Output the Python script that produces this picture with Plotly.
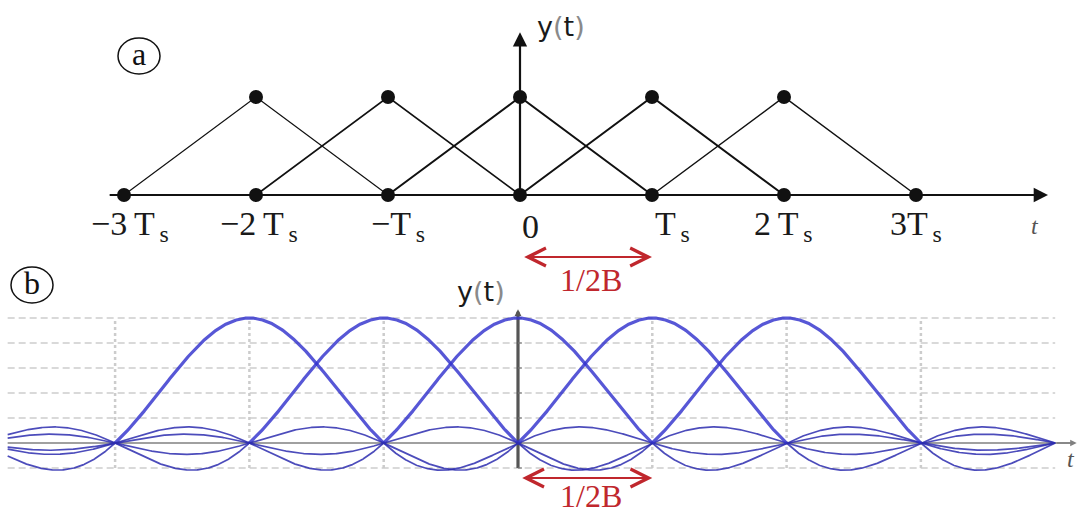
import numpy as np
import plotly.graph_objects as go

# ---------------- data ----------------
sample_ticks = [-3, -2, -1, 0, 1, 2, 3]                      # multiples of Ts
tick_labels = ["−3\u2009T<sub>\u2009s</sub>", "−2\u2009T<sub>\u2009s</sub>", "−T<sub>\u2009s</sub>", "0",
               "T<sub>\u2009s</sub>", "2\u2009T<sub>\u2009s</sub>", "3T<sub>\u2009s</sub>"]
pulse_centers = [-2, -1, 0, 1, 2]                              # triangular pulses (a)
pulse_peak = 1.0
pulse_halfwidth = 1.0
sinc_centers = [-2, -1, 0, 1, 2]                               # sinc pulses (b)
sinc_t_start, sinc_t_end = -3.8, 4.0
grid_levels = [-0.2, 0.0, 0.2, 0.4, 0.6, 0.8, 1.0]
grid_ticks_b = [-3, -2, -1, 1, 2, 3]
spacing_interval = [0, 1]                                      # one sample period
spacing_label = "1/2B"

# ---------------- canvas helpers ----------------
W, H = 1078, 516


def px(x):
    return x / W


def py(y):
    return 1 - y / H


BLACK = "#111111"
RED = "#c0272d"
SERIF = "Liberation Serif, DejaVu Serif, serif"
SANS = "DejaVu Sans, sans-serif"

fig = go.Figure()

# ---------------- panel (a): triangular pulses ----------------
pulse_widths = [1.2, 1.6, 2.0, 2.0, 1.5]
for c, lw in zip(pulse_centers, pulse_widths):
    fig.add_trace(go.Scatter(
        x=[c - pulse_halfwidth, c, c + pulse_halfwidth],
        y=[0, pulse_peak, 0],
        mode="lines", line=dict(color=BLACK, width=lw),
        xaxis="x", yaxis="y", hoverinfo="skip", showlegend=False))

# sample dots: pulse peaks and zero crossings
fig.add_trace(go.Scatter(
    x=pulse_centers + sample_ticks,
    y=[pulse_peak] * len(pulse_centers) + [0] * len(sample_ticks),
    mode="markers", marker=dict(color=BLACK, size=14),
    xaxis="x", yaxis="y", hoverinfo="skip", showlegend=False))

# ---------------- panel (b): sinc pulses ----------------
t = np.linspace(sinc_t_start, sinc_t_end, 1600)
for c in sinc_centers:
    y = np.sinc(t - c)
    main = np.where(np.abs(t - c) <= 1.0, y, np.nan)
    side = np.where(np.abs(t - c) >= 1.0, y, np.nan)
    fig.add_trace(go.Scatter(
        x=t, y=side, mode="lines",
        line=dict(color="rgba(45,45,175,0.85)", width=1.7),
        xaxis="x2", yaxis="y2", hoverinfo="skip", showlegend=False))
    fig.add_trace(go.Scatter(
        x=t, y=main, mode="lines",
        line=dict(color="rgba(50,50,205,0.82)", width=3.2),
        xaxis="x2", yaxis="y2", hoverinfo="skip", showlegend=False))

shapes = []
# dashed horizontal grid
for g in grid_levels:
    if g == 0:
        continue
    shapes.append(dict(type="line", xref="x2", yref="y2",
                       x0=sinc_t_start, x1=sinc_t_end, y0=g, y1=g,
                       line=dict(color="#cdcdcd", width=1.3, dash="7px,4px"),
                       layer="below"))
# dotted vertical grid
for k in grid_ticks_b:
    shapes.append(dict(type="line", xref="x2", yref="y2",
                       x0=k, x1=k, y0=min(grid_levels), y1=max(grid_levels),
                       line=dict(color="#cccccc", width=2.5, dash="dot"),
                       layer="below"))
# zero line and vertical axis of (b)
shapes.append(dict(type="line", xref="x2", yref="y2",
                   x0=sinc_t_start, x1=4.14, y0=0, y1=0,
                   line=dict(color="#808080", width=1.5), layer="below"))
shapes.append(dict(type="line", xref="x2", yref="y2",
                   x0=0, x1=0, y0=min(grid_levels), y1=1.05,
                   line=dict(color="#555555", width=3.2), layer="below"))
# small ticks on the (b) vertical axis
for g in grid_levels:
    shapes.append(dict(type="line", xref="x2", yref="y2",
                       x0=0, x1=0.03, y0=g, y1=g,
                       line=dict(color="#777777", width=1.2), layer="below"))

# circled panel letters
for cx, cy, rx, ry in [(139, 56, 21, 18), (32, 285, 21, 18)]:
    shapes.append(dict(type="circle", xref="paper", yref="paper",
                       x0=px(cx - rx), x1=px(cx + rx),
                       y0=py(cy + ry), y1=py(cy - ry),
                       line=dict(color=BLACK, width=1.5)))

annotations = []


def arrow(x0, y0, x1, y1, xr, yr, color, width, head, size, both=False):
    d = dict(x=x1, y=y1, ax=x0, ay=y0, xref=xr, yref=yr, axref=xr, ayref=yr,
             text="", showarrow=True, arrowhead=head, arrowsize=size,
             arrowwidth=width, arrowcolor=color, standoff=0, startstandoff=0)
    if both:
        d.update(arrowside="end+start", startarrowhead=head, startarrowsize=size)
    return d


# axes of (a)
annotations.append(arrow(-3.12, 0, 4.0, 0, "x", "y", BLACK, 2.2, 2, 1.3))
annotations.append(arrow(0, 0, 0, 1.66, "x", "y", BLACK, 2.2, 2, 1.3))
# small arrowheads for (b)
annotations.append(arrow(4.0, 0, 4.16, 0, "x2", "y2", "#808080", 1.3, 2, 1.0))
annotations.append(arrow(0, 1.0, 0, 1.07, "x2", "y2", "#555555", 1.5, 2, 0.9))

# tick labels of (a)
label_nudge = [6, 3, 10, 10, 20, -1, 0]
for k, lab, dx in zip(sample_ticks, tick_labels, label_nudge):
    annotations.append(dict(x=k, y=py(226), xref="x", yref="paper",
                            text=lab, showarrow=False, xshift=dx,
                            xanchor="center", yanchor="middle",
                            font=dict(family=SERIF, size=34, color="#1a1a1a")))

# sample spacing markers (red double arrows)
ya_arrow = (195 - 257) / 98.0
yb_arrow = (443 - 478) / 125.0
annotations.append(arrow(spacing_interval[0] + 0.02, ya_arrow, spacing_interval[1], ya_arrow,
                         "x", "y", RED, 2.2, 5, 1.6, both=True))
annotations.append(arrow(spacing_interval[0] + 0.02, yb_arrow, spacing_interval[1], yb_arrow,
                         "x2", "y2", RED, 2.2, 5, 1.6, both=True))
for yy in (280, 496):
    annotations.append(dict(x=px(591), y=py(yy), xref="paper", yref="paper",
                            text=spacing_label, showarrow=False,
                            xanchor="center", yanchor="middle",
                            font=dict(family=SERIF, size=32, color=RED)))

# axis titles
paren = "<span style='color:#8a8a8a'>(</span>t<span style='color:#8a8a8a'>)</span>"
for xx, yy in [(561, 27), (481, 291)]:
    annotations.append(dict(x=px(xx), y=py(yy), xref="paper", yref="paper",
                            text="y" + paren, showarrow=False,
                            xanchor="center", yanchor="middle",
                            font=dict(family=SANS, size=27, color="#1a1a1a")))
for xx, yy in [(1035, 226), (1071, 459)]:
    annotations.append(dict(x=px(xx), y=py(yy), xref="paper", yref="paper",
                            text="<i>t</i>", showarrow=False,
                            xanchor="center", yanchor="middle",
                            font=dict(family=SERIF, size=24, color="#555555")))

# panel letters
for letter, xx, yy in [("a", 139, 54), ("b", 32, 283)]:
    annotations.append(dict(x=px(xx), y=py(yy), xref="paper", yref="paper",
                            text=letter, showarrow=False,
                            xanchor="center", yanchor="middle",
                            font=dict(family=SERIF, size=32, color=BLACK)))

fig.update_layout(
    width=W, height=H,
    margin=dict(l=0, r=0, t=0, b=0),
    paper_bgcolor="white", plot_bgcolor="white",
    showlegend=False,
    xaxis=dict(range=[-520 / 132.0, (W - 520) / 132.0], domain=[0, 1],
               visible=False, fixedrange=True, anchor="y"),
    yaxis=dict(range=[-(H - 195) / 98.0, 195 / 98.0], domain=[0, 1],
               visible=False, fixedrange=True, anchor="x"),
    xaxis2=dict(range=[-518 / 134.3, (W - 518) / 134.3], domain=[0, 1],
                visible=False, fixedrange=True, overlaying="x", anchor="y2"),
    yaxis2=dict(range=[-(H - 443) / 125.0, 443 / 125.0], domain=[0, 1],
                visible=False, fixedrange=True, overlaying="y", anchor="x2"),
    shapes=shapes,
    annotations=annotations,
)

fig.write_html("out.html")
